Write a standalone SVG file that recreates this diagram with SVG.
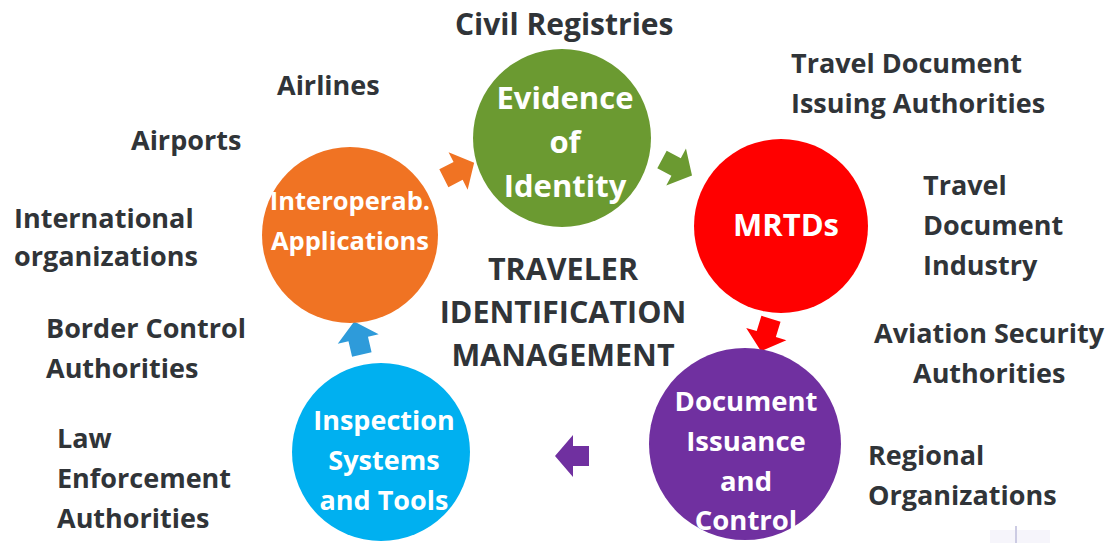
<svg xmlns="http://www.w3.org/2000/svg" width="1111" height="543" viewBox="0 0 1111 543">
<style>
.lbl{font-family:"Open Sans",Lato,"Liberation Sans",sans-serif;font-weight:bold;font-size:27px;fill:#303438}
.in{font-family:"Open Sans",Lato,"Liberation Sans",sans-serif;font-weight:bold;font-size:27.5px;fill:#ffffff;text-anchor:middle}
.ctr{font-family:"Open Sans",Lato,"Liberation Sans",sans-serif;font-weight:bold;font-size:30.5px;fill:#303438;text-anchor:middle}
</style>
<defs>
<path id="arr" d="M-17,-10 H-1 V-21 L17,0 L-1,21 V10 H-17 Z"/>
</defs>
<rect width="1111" height="543" fill="#ffffff"/>
<g id="connectors">
<use href="#arr" fill="#F07323" transform="translate(459,170.5) rotate(-27)"/>
<use href="#arr" fill="#6B9A31" transform="translate(677,167.5) rotate(28)"/>
<use href="#arr" fill="#FF0000" transform="translate(766,335) rotate(107)"/>
<use href="#arr" fill="#7030A0" transform="translate(572,456) rotate(180)"/>
<use href="#arr" fill="#2E9BDA" transform="translate(358,338) rotate(-103)"/>
</g>
<g id="interop">
<circle cx="350" cy="235" r="88" fill="#F07323"/>
<text class="in" x="350" y="210" style="font-size:25.5px">Interoperab.</text>
<text class="in" x="350" y="250" style="font-size:25.5px">Applications</text>
</g>
<g id="evidence">
<circle cx="562" cy="138" r="89" fill="#6B9A31"/>
<text class="in" x="565" y="109" style="font-size:31px">Evidence</text>
<text class="in" x="565" y="153" style="font-size:31px">of</text>
<text class="in" x="565" y="197" style="font-size:31px">Identity</text>
</g>
<g id="mrtds">
<circle cx="781" cy="226" r="87" fill="#FF0000"/>
<text class="in" x="786" y="236" style="font-size:31px">MRTDs</text>
</g>
<g id="issuance">
<circle cx="745" cy="444" r="96" fill="#7030A0"/>
<text class="in" x="746" y="411">Document</text>
<text class="in" x="746" y="451">Issuance</text>
<text class="in" x="746" y="491">and</text>
<text class="in" x="746" y="530">Control</text>
</g>
<g id="inspection">
<circle cx="381" cy="452" r="89" fill="#00B0F0"/>
<text class="in" x="384" y="430" style="font-size:27px">Inspection</text>
<text class="in" x="384" y="470" style="font-size:27px">Systems</text>
<text class="in" x="384" y="510" style="font-size:27px">and Tools</text>
</g>
<g id="center">
<text class="ctr" x="563" y="280">TRAVELER</text>
<text class="ctr" x="563" y="323">IDENTIFICATION</text>
<text class="ctr" x="563" y="366">MANAGEMENT</text>
</g>
<g id="stakeholders">
<text class="lbl" x="455" y="35" style="font-size:30px">Civil Registries</text>
<text class="lbl" x="277" y="95">Airlines</text>
<text class="lbl" x="131" y="150">Airports</text>
<text class="lbl" x="14" y="228">International</text>
<text class="lbl" x="14" y="266">organizations</text>
<text class="lbl" x="46" y="338">Border Control</text>
<text class="lbl" x="46" y="378">Authorities</text>
<text class="lbl" x="57" y="448">Law</text>
<text class="lbl" x="57" y="488">Enforcement</text>
<text class="lbl" x="57" y="528">Authorities</text>
<text class="lbl" x="791" y="73">Travel Document</text>
<text class="lbl" x="791" y="113">Issuing Authorities</text>
<text class="lbl" x="923" y="195">Travel</text>
<text class="lbl" x="923" y="235">Document</text>
<text class="lbl" x="923" y="275">Industry</text>
<text class="lbl" x="874" y="343">Aviation Security</text>
<text class="lbl" x="913" y="383">Authorities</text>
<text class="lbl" x="868" y="465">Regional</text>
<text class="lbl" x="868" y="505">Organizations</text>
</g>
<g id="artifact" opacity="0.5">
<rect x="990" y="530" width="60" height="13" fill="#EEEDF8"/>
<line x1="1016" y1="526" x2="1016" y2="543" stroke="#9A98C8" stroke-width="2"/>
</g>
</svg>
